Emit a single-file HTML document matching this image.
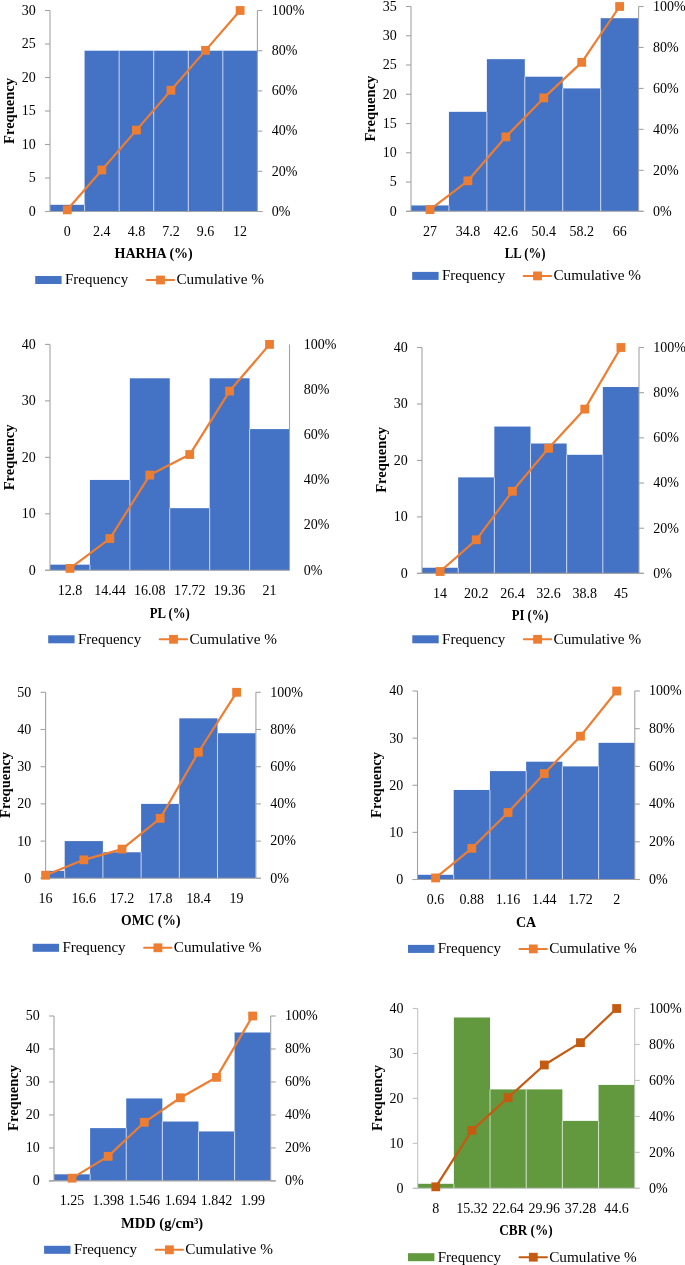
<!DOCTYPE html>
<html><head><meta charset="utf-8"><style>
html,body{margin:0;padding:0;background:#fff;overflow:hidden;}
svg{display:block;}
text{font-family:"Liberation Serif", serif;font-size:14px;fill:#000000;}
svg{will-change:transform;}
</style></head><body>
<svg width="685" height="1265" viewBox="0 0 685 1265">
<rect width="685" height="1265" fill="#fff"/>
<g><rect x="50" y="204.8" width="34.57" height="6.7" fill="#4472C4"/><rect x="84.57" y="50.7" width="34.57" height="160.8" fill="#4472C4"/><rect x="119.13" y="50.7" width="34.57" height="160.8" fill="#4472C4"/><rect x="153.7" y="50.7" width="34.57" height="160.8" fill="#4472C4"/><rect x="188.27" y="50.7" width="34.57" height="160.8" fill="#4472C4"/><rect x="222.83" y="50.7" width="34.57" height="160.8" fill="#4472C4"/><line x1="84.57" y1="211.5" x2="84.57" y2="204.8" stroke="#fff" stroke-opacity="0.6" stroke-width="1.1"/><line x1="119.13" y1="211.5" x2="119.13" y2="50.7" stroke="#fff" stroke-opacity="0.6" stroke-width="1.1"/><line x1="153.7" y1="211.5" x2="153.7" y2="50.7" stroke="#fff" stroke-opacity="0.6" stroke-width="1.1"/><line x1="188.27" y1="211.5" x2="188.27" y2="50.7" stroke="#fff" stroke-opacity="0.6" stroke-width="1.1"/><line x1="222.83" y1="211.5" x2="222.83" y2="50.7" stroke="#fff" stroke-opacity="0.6" stroke-width="1.1"/><line x1="50" y1="10.5" x2="50" y2="211.5" stroke="#A3A3A3" stroke-width="1.1"/><line x1="45" y1="211.5" x2="262.4" y2="211.5" stroke="#A3A3A3" stroke-width="1.1"/><line x1="257.4" y1="10.5" x2="257.4" y2="211.5" stroke="#A3A3A3" stroke-width="1.1"/><line x1="45" y1="211.5" x2="50" y2="211.5" stroke="#A3A3A3" stroke-width="1.1"/><text x="35.7" y="215.9" text-anchor="end">0</text><line x1="45" y1="178" x2="50" y2="178" stroke="#A3A3A3" stroke-width="1.1"/><text x="35.7" y="182.4" text-anchor="end">5</text><line x1="45" y1="144.5" x2="50" y2="144.5" stroke="#A3A3A3" stroke-width="1.1"/><text x="35.7" y="148.9" text-anchor="end">10</text><line x1="45" y1="111" x2="50" y2="111" stroke="#A3A3A3" stroke-width="1.1"/><text x="35.7" y="115.4" text-anchor="end">15</text><line x1="45" y1="77.5" x2="50" y2="77.5" stroke="#A3A3A3" stroke-width="1.1"/><text x="35.7" y="81.9" text-anchor="end">20</text><line x1="45" y1="44" x2="50" y2="44" stroke="#A3A3A3" stroke-width="1.1"/><text x="35.7" y="48.4" text-anchor="end">25</text><line x1="45" y1="10.5" x2="50" y2="10.5" stroke="#A3A3A3" stroke-width="1.1"/><text x="35.7" y="14.9" text-anchor="end">30</text><line x1="257.4" y1="211.5" x2="262.4" y2="211.5" stroke="#A3A3A3" stroke-width="1.1"/><text x="271.7" y="215.8">0%</text><line x1="257.4" y1="171.3" x2="262.4" y2="171.3" stroke="#A3A3A3" stroke-width="1.1"/><text x="271.7" y="175.6">20%</text><line x1="257.4" y1="131.1" x2="262.4" y2="131.1" stroke="#A3A3A3" stroke-width="1.1"/><text x="271.7" y="135.4">40%</text><line x1="257.4" y1="90.9" x2="262.4" y2="90.9" stroke="#A3A3A3" stroke-width="1.1"/><text x="271.7" y="95.2">60%</text><line x1="257.4" y1="50.7" x2="262.4" y2="50.7" stroke="#A3A3A3" stroke-width="1.1"/><text x="271.7" y="55">80%</text><line x1="257.4" y1="10.5" x2="262.4" y2="10.5" stroke="#A3A3A3" stroke-width="1.1"/><text x="271.7" y="14.8">100%</text><text x="67.28" y="235.8" text-anchor="middle">0</text><text x="101.85" y="235.8" text-anchor="middle">2.4</text><text x="136.42" y="235.8" text-anchor="middle">4.8</text><text x="170.98" y="235.8" text-anchor="middle">7.2</text><text x="205.55" y="235.8" text-anchor="middle">9.6</text><text x="240.12" y="235.8" text-anchor="middle">12</text><polyline points="67.28,209.84 101.85,169.97 136.42,130.1 170.98,90.24 205.55,50.37 240.12,10.5" fill="none" stroke="#ED7D31" stroke-width="2.2" stroke-linejoin="round" stroke-linecap="round"/><rect x="62.88" y="205.44" width="8.8" height="8.8" fill="#ED7D31"/><rect x="97.45" y="165.57" width="8.8" height="8.8" fill="#ED7D31"/><rect x="132.02" y="125.7" width="8.8" height="8.8" fill="#ED7D31"/><rect x="166.58" y="85.84" width="8.8" height="8.8" fill="#ED7D31"/><rect x="201.15" y="45.97" width="8.8" height="8.8" fill="#ED7D31"/><rect x="235.72" y="6.1" width="8.8" height="8.8" fill="#ED7D31"/><text x="153.7" y="258.2" text-anchor="middle" font-weight="bold">HARHA (%)</text><text transform="translate(13.8,111) rotate(-90)" text-anchor="middle" font-weight="bold" textLength="65.84" lengthAdjust="spacingAndGlyphs">Frequency</text><rect x="35.2" y="276" width="26.4" height="8" fill="#4472C4"/><text x="65" y="284.3" textLength="63.2" lengthAdjust="spacingAndGlyphs">Frequency</text><line x1="146.7" y1="280" x2="174.1" y2="280" stroke="#ED7D31" stroke-width="2" stroke-linecap="round"/><rect x="156.1" y="275.6" width="8.8" height="8.8" fill="#ED7D31"/><text x="176.4" y="284.3" textLength="87.6" lengthAdjust="spacingAndGlyphs">Cumulative %</text></g>
<g><rect x="411" y="205.45" width="37.93" height="5.85" fill="#4472C4"/><rect x="448.93" y="111.83" width="37.93" height="99.47" fill="#4472C4"/><rect x="486.87" y="59.16" width="37.93" height="152.14" fill="#4472C4"/><rect x="524.8" y="76.72" width="37.93" height="134.58" fill="#4472C4"/><rect x="562.73" y="88.42" width="37.93" height="122.88" fill="#4472C4"/><rect x="600.67" y="18.2" width="37.93" height="193.1" fill="#4472C4"/><line x1="448.93" y1="211.3" x2="448.93" y2="205.45" stroke="#fff" stroke-opacity="0.6" stroke-width="1.1"/><line x1="486.87" y1="211.3" x2="486.87" y2="111.83" stroke="#fff" stroke-opacity="0.6" stroke-width="1.1"/><line x1="524.8" y1="211.3" x2="524.8" y2="76.72" stroke="#fff" stroke-opacity="0.6" stroke-width="1.1"/><line x1="562.73" y1="211.3" x2="562.73" y2="88.42" stroke="#fff" stroke-opacity="0.6" stroke-width="1.1"/><line x1="600.67" y1="211.3" x2="600.67" y2="88.42" stroke="#fff" stroke-opacity="0.6" stroke-width="1.1"/><line x1="411" y1="6.5" x2="411" y2="211.3" stroke="#A3A3A3" stroke-width="1.1"/><line x1="406" y1="211.3" x2="643.6" y2="211.3" stroke="#A3A3A3" stroke-width="1.1"/><line x1="638.6" y1="6.5" x2="638.6" y2="211.3" stroke="#A3A3A3" stroke-width="1.1"/><line x1="406" y1="211.3" x2="411" y2="211.3" stroke="#A3A3A3" stroke-width="1.1"/><text x="396.7" y="215.7" text-anchor="end">0</text><line x1="406" y1="182.04" x2="411" y2="182.04" stroke="#A3A3A3" stroke-width="1.1"/><text x="396.7" y="186.44" text-anchor="end">5</text><line x1="406" y1="152.79" x2="411" y2="152.79" stroke="#A3A3A3" stroke-width="1.1"/><text x="396.7" y="157.19" text-anchor="end">10</text><line x1="406" y1="123.53" x2="411" y2="123.53" stroke="#A3A3A3" stroke-width="1.1"/><text x="396.7" y="127.93" text-anchor="end">15</text><line x1="406" y1="94.27" x2="411" y2="94.27" stroke="#A3A3A3" stroke-width="1.1"/><text x="396.7" y="98.67" text-anchor="end">20</text><line x1="406" y1="65.01" x2="411" y2="65.01" stroke="#A3A3A3" stroke-width="1.1"/><text x="396.7" y="69.41" text-anchor="end">25</text><line x1="406" y1="35.76" x2="411" y2="35.76" stroke="#A3A3A3" stroke-width="1.1"/><text x="396.7" y="40.16" text-anchor="end">30</text><line x1="406" y1="6.5" x2="411" y2="6.5" stroke="#A3A3A3" stroke-width="1.1"/><text x="396.7" y="10.9" text-anchor="end">35</text><line x1="638.6" y1="211.3" x2="643.6" y2="211.3" stroke="#A3A3A3" stroke-width="1.1"/><text x="652.9" y="215.6">0%</text><line x1="638.6" y1="170.34" x2="643.6" y2="170.34" stroke="#A3A3A3" stroke-width="1.1"/><text x="652.9" y="174.64">20%</text><line x1="638.6" y1="129.38" x2="643.6" y2="129.38" stroke="#A3A3A3" stroke-width="1.1"/><text x="652.9" y="133.68">40%</text><line x1="638.6" y1="88.42" x2="643.6" y2="88.42" stroke="#A3A3A3" stroke-width="1.1"/><text x="652.9" y="92.72">60%</text><line x1="638.6" y1="47.46" x2="643.6" y2="47.46" stroke="#A3A3A3" stroke-width="1.1"/><text x="652.9" y="51.76">80%</text><line x1="638.6" y1="6.5" x2="643.6" y2="6.5" stroke="#A3A3A3" stroke-width="1.1"/><text x="652.9" y="10.8">100%</text><text x="429.97" y="235.6" text-anchor="middle">27</text><text x="467.9" y="235.6" text-anchor="middle">34.8</text><text x="505.83" y="235.6" text-anchor="middle">42.6</text><text x="543.77" y="235.6" text-anchor="middle">50.4</text><text x="581.7" y="235.6" text-anchor="middle">58.2</text><text x="619.63" y="235.6" text-anchor="middle">66</text><polyline points="429.97,209.61 467.9,180.83 505.83,136.83 543.77,97.9 581.7,62.35 619.63,6.5" fill="none" stroke="#ED7D31" stroke-width="2.2" stroke-linejoin="round" stroke-linecap="round"/><rect x="425.57" y="205.21" width="8.8" height="8.8" fill="#ED7D31"/><rect x="463.5" y="176.43" width="8.8" height="8.8" fill="#ED7D31"/><rect x="501.43" y="132.43" width="8.8" height="8.8" fill="#ED7D31"/><rect x="539.37" y="93.5" width="8.8" height="8.8" fill="#ED7D31"/><rect x="577.3" y="57.95" width="8.8" height="8.8" fill="#ED7D31"/><rect x="615.23" y="2.1" width="8.8" height="8.8" fill="#ED7D31"/><text x="525.2" y="258.4" text-anchor="middle" font-weight="bold" textLength="40.87" lengthAdjust="spacingAndGlyphs">LL (%)</text><text transform="translate(375,108.7) rotate(-90)" text-anchor="middle" font-weight="bold" textLength="65.84" lengthAdjust="spacingAndGlyphs">Frequency</text><rect x="412.2" y="271.9" width="26.4" height="8" fill="#4472C4"/><text x="442" y="280.2" textLength="63.2" lengthAdjust="spacingAndGlyphs">Frequency</text><line x1="523.7" y1="275.9" x2="551.1" y2="275.9" stroke="#ED7D31" stroke-width="2" stroke-linecap="round"/><rect x="533.1" y="271.5" width="8.8" height="8.8" fill="#ED7D31"/><text x="553.4" y="280.2" textLength="87.6" lengthAdjust="spacingAndGlyphs">Cumulative %</text></g>
<g><rect x="50" y="564.65" width="39.92" height="5.65" fill="#4472C4"/><rect x="89.92" y="479.94" width="39.92" height="90.36" fill="#4472C4"/><rect x="129.83" y="378.28" width="39.92" height="192.01" fill="#4472C4"/><rect x="169.75" y="508.18" width="39.92" height="62.12" fill="#4472C4"/><rect x="209.67" y="378.28" width="39.92" height="192.01" fill="#4472C4"/><rect x="249.58" y="429.11" width="39.92" height="141.19" fill="#4472C4"/><line x1="89.92" y1="570.3" x2="89.92" y2="564.65" stroke="#fff" stroke-opacity="0.6" stroke-width="1.1"/><line x1="129.83" y1="570.3" x2="129.83" y2="479.94" stroke="#fff" stroke-opacity="0.6" stroke-width="1.1"/><line x1="169.75" y1="570.3" x2="169.75" y2="508.18" stroke="#fff" stroke-opacity="0.6" stroke-width="1.1"/><line x1="209.67" y1="570.3" x2="209.67" y2="508.18" stroke="#fff" stroke-opacity="0.6" stroke-width="1.1"/><line x1="249.58" y1="570.3" x2="249.58" y2="429.11" stroke="#fff" stroke-opacity="0.6" stroke-width="1.1"/><line x1="50" y1="344.4" x2="50" y2="570.3" stroke="#A3A3A3" stroke-width="1.1"/><line x1="45" y1="570.3" x2="289.5" y2="570.3" stroke="#A3A3A3" stroke-width="1.1"/><line x1="289.5" y1="344.4" x2="289.5" y2="570.3" stroke="#A3A3A3" stroke-width="1.1"/><line x1="45" y1="570.3" x2="50" y2="570.3" stroke="#A3A3A3" stroke-width="1.1"/><text x="35.7" y="574.7" text-anchor="end">0</text><line x1="45" y1="513.82" x2="50" y2="513.82" stroke="#A3A3A3" stroke-width="1.1"/><text x="35.7" y="518.22" text-anchor="end">10</text><line x1="45" y1="457.35" x2="50" y2="457.35" stroke="#A3A3A3" stroke-width="1.1"/><text x="35.7" y="461.75" text-anchor="end">20</text><line x1="45" y1="400.88" x2="50" y2="400.88" stroke="#A3A3A3" stroke-width="1.1"/><text x="35.7" y="405.27" text-anchor="end">30</text><line x1="45" y1="344.4" x2="50" y2="344.4" stroke="#A3A3A3" stroke-width="1.1"/><text x="35.7" y="348.8" text-anchor="end">40</text><text x="303.8" y="574.6">0%</text><text x="303.8" y="529.42">20%</text><text x="303.8" y="484.24">40%</text><text x="303.8" y="439.06">60%</text><text x="303.8" y="393.88">80%</text><text x="303.8" y="348.7">100%</text><text x="69.96" y="594.6" text-anchor="middle">12.8</text><text x="109.88" y="594.6" text-anchor="middle">14.44</text><text x="149.79" y="594.6" text-anchor="middle">16.08</text><text x="189.71" y="594.6" text-anchor="middle">17.72</text><text x="229.62" y="594.6" text-anchor="middle">19.36</text><text x="269.54" y="594.6" text-anchor="middle">21</text><polyline points="69.96,568.43 109.88,538.56 149.79,475.09 189.71,454.55 229.62,391.07 269.54,344.4" fill="none" stroke="#ED7D31" stroke-width="2.2" stroke-linejoin="round" stroke-linecap="round"/><rect x="65.56" y="564.03" width="8.8" height="8.8" fill="#ED7D31"/><rect x="105.47" y="534.16" width="8.8" height="8.8" fill="#ED7D31"/><rect x="145.39" y="470.69" width="8.8" height="8.8" fill="#ED7D31"/><rect x="185.31" y="450.15" width="8.8" height="8.8" fill="#ED7D31"/><rect x="225.22" y="386.67" width="8.8" height="8.8" fill="#ED7D31"/><rect x="265.14" y="340" width="8.8" height="8.8" fill="#ED7D31"/><text x="169.7" y="617.7" text-anchor="middle" font-weight="bold" textLength="39.95" lengthAdjust="spacingAndGlyphs">PL (%)</text><text transform="translate(14,457.4) rotate(-90)" text-anchor="middle" font-weight="bold" textLength="65.84" lengthAdjust="spacingAndGlyphs">Frequency</text><rect x="48.2" y="635.3" width="26.4" height="8" fill="#4472C4"/><text x="78" y="643.6" textLength="63.2" lengthAdjust="spacingAndGlyphs">Frequency</text><line x1="159.7" y1="639.3" x2="187.1" y2="639.3" stroke="#ED7D31" stroke-width="2" stroke-linecap="round"/><rect x="169.1" y="634.9" width="8.8" height="8.8" fill="#ED7D31"/><text x="189.4" y="643.6" textLength="87.6" lengthAdjust="spacingAndGlyphs">Cumulative %</text></g>
<g><rect x="422" y="567.75" width="36.17" height="5.65" fill="#4472C4"/><rect x="458.17" y="477.39" width="36.17" height="96.01" fill="#4472C4"/><rect x="494.33" y="426.56" width="36.17" height="146.83" fill="#4472C4"/><rect x="530.5" y="443.51" width="36.17" height="129.89" fill="#4472C4"/><rect x="566.67" y="454.8" width="36.17" height="118.6" fill="#4472C4"/><rect x="602.83" y="387.03" width="36.17" height="186.37" fill="#4472C4"/><line x1="458.17" y1="573.4" x2="458.17" y2="567.75" stroke="#fff" stroke-opacity="0.6" stroke-width="1.1"/><line x1="494.33" y1="573.4" x2="494.33" y2="477.39" stroke="#fff" stroke-opacity="0.6" stroke-width="1.1"/><line x1="530.5" y1="573.4" x2="530.5" y2="443.51" stroke="#fff" stroke-opacity="0.6" stroke-width="1.1"/><line x1="566.67" y1="573.4" x2="566.67" y2="454.8" stroke="#fff" stroke-opacity="0.6" stroke-width="1.1"/><line x1="602.83" y1="573.4" x2="602.83" y2="454.8" stroke="#fff" stroke-opacity="0.6" stroke-width="1.1"/><line x1="422" y1="347.5" x2="422" y2="573.4" stroke="#A3A3A3" stroke-width="1.1"/><line x1="417" y1="573.4" x2="644" y2="573.4" stroke="#A3A3A3" stroke-width="1.1"/><line x1="639" y1="347.5" x2="639" y2="573.4" stroke="#A3A3A3" stroke-width="1.1"/><line x1="417" y1="573.4" x2="422" y2="573.4" stroke="#A3A3A3" stroke-width="1.1"/><text x="407.7" y="577.8" text-anchor="end">0</text><line x1="417" y1="516.92" x2="422" y2="516.92" stroke="#A3A3A3" stroke-width="1.1"/><text x="407.7" y="521.32" text-anchor="end">10</text><line x1="417" y1="460.45" x2="422" y2="460.45" stroke="#A3A3A3" stroke-width="1.1"/><text x="407.7" y="464.85" text-anchor="end">20</text><line x1="417" y1="403.98" x2="422" y2="403.98" stroke="#A3A3A3" stroke-width="1.1"/><text x="407.7" y="408.38" text-anchor="end">30</text><line x1="417" y1="347.5" x2="422" y2="347.5" stroke="#A3A3A3" stroke-width="1.1"/><text x="407.7" y="351.9" text-anchor="end">40</text><line x1="639" y1="573.4" x2="644" y2="573.4" stroke="#A3A3A3" stroke-width="1.1"/><text x="653.3" y="577.7">0%</text><line x1="639" y1="528.22" x2="644" y2="528.22" stroke="#A3A3A3" stroke-width="1.1"/><text x="653.3" y="532.52">20%</text><line x1="639" y1="483.04" x2="644" y2="483.04" stroke="#A3A3A3" stroke-width="1.1"/><text x="653.3" y="487.34">40%</text><line x1="639" y1="437.86" x2="644" y2="437.86" stroke="#A3A3A3" stroke-width="1.1"/><text x="653.3" y="442.16">60%</text><line x1="639" y1="392.68" x2="644" y2="392.68" stroke="#A3A3A3" stroke-width="1.1"/><text x="653.3" y="396.98">80%</text><line x1="639" y1="347.5" x2="644" y2="347.5" stroke="#A3A3A3" stroke-width="1.1"/><text x="653.3" y="351.8">100%</text><text x="440.08" y="597.7" text-anchor="middle">14</text><text x="476.25" y="597.7" text-anchor="middle">20.2</text><text x="512.42" y="597.7" text-anchor="middle">26.4</text><text x="548.58" y="597.7" text-anchor="middle">32.6</text><text x="584.75" y="597.7" text-anchor="middle">38.8</text><text x="620.92" y="597.7" text-anchor="middle">45</text><polyline points="440.08,571.53 476.25,539.8 512.42,491.25 548.58,448.31 584.75,409.11 620.92,347.5" fill="none" stroke="#ED7D31" stroke-width="2.2" stroke-linejoin="round" stroke-linecap="round"/><rect x="435.68" y="567.13" width="8.8" height="8.8" fill="#ED7D31"/><rect x="471.85" y="535.4" width="8.8" height="8.8" fill="#ED7D31"/><rect x="508.02" y="486.85" width="8.8" height="8.8" fill="#ED7D31"/><rect x="544.18" y="443.91" width="8.8" height="8.8" fill="#ED7D31"/><rect x="580.35" y="404.71" width="8.8" height="8.8" fill="#ED7D31"/><rect x="616.52" y="343.1" width="8.8" height="8.8" fill="#ED7D31"/><text x="530.1" y="620.2" text-anchor="middle" font-weight="bold" textLength="36.85" lengthAdjust="spacingAndGlyphs">PI (%)</text><text transform="translate(386.2,459.9) rotate(-90)" text-anchor="middle" font-weight="bold" textLength="65.84" lengthAdjust="spacingAndGlyphs">Frequency</text><rect x="412.3" y="635.3" width="26.4" height="8" fill="#4472C4"/><text x="442.1" y="643.6" textLength="63.2" lengthAdjust="spacingAndGlyphs">Frequency</text><line x1="523.8" y1="639.3" x2="551.2" y2="639.3" stroke="#ED7D31" stroke-width="2" stroke-linecap="round"/><rect x="533.2" y="634.9" width="8.8" height="8.8" fill="#ED7D31"/><text x="553.5" y="643.6" textLength="87.6" lengthAdjust="spacingAndGlyphs">Cumulative %</text></g>
<g><rect x="45.6" y="870.86" width="19.1" height="7.44" fill="#4472C4"/><rect x="64.7" y="841.1" width="38.2" height="37.2" fill="#4472C4"/><rect x="102.9" y="852.26" width="38.2" height="26.04" fill="#4472C4"/><rect x="141.1" y="803.9" width="38.2" height="74.4" fill="#4472C4"/><rect x="179.3" y="718.34" width="38.2" height="159.96" fill="#4472C4"/><rect x="217.5" y="733.22" width="38.2" height="145.08" fill="#4472C4"/><line x1="64.7" y1="878.3" x2="64.7" y2="870.86" stroke="#fff" stroke-opacity="0.6" stroke-width="1.1"/><line x1="102.9" y1="878.3" x2="102.9" y2="852.26" stroke="#fff" stroke-opacity="0.6" stroke-width="1.1"/><line x1="141.1" y1="878.3" x2="141.1" y2="852.26" stroke="#fff" stroke-opacity="0.6" stroke-width="1.1"/><line x1="179.3" y1="878.3" x2="179.3" y2="803.9" stroke="#fff" stroke-opacity="0.6" stroke-width="1.1"/><line x1="217.5" y1="878.3" x2="217.5" y2="733.22" stroke="#fff" stroke-opacity="0.6" stroke-width="1.1"/><line x1="45.6" y1="692.3" x2="45.6" y2="878.3" stroke="#A3A3A3" stroke-width="1.1"/><line x1="40.6" y1="878.3" x2="260.9" y2="878.3" stroke="#A3A3A3" stroke-width="1.1"/><line x1="255.9" y1="692.3" x2="255.9" y2="878.3" stroke="#A3A3A3" stroke-width="1.1"/><line x1="40.6" y1="878.3" x2="45.6" y2="878.3" stroke="#A3A3A3" stroke-width="1.1"/><text x="31.3" y="882.7" text-anchor="end">0</text><line x1="40.6" y1="841.1" x2="45.6" y2="841.1" stroke="#A3A3A3" stroke-width="1.1"/><text x="31.3" y="845.5" text-anchor="end">10</text><line x1="40.6" y1="803.9" x2="45.6" y2="803.9" stroke="#A3A3A3" stroke-width="1.1"/><text x="31.3" y="808.3" text-anchor="end">20</text><line x1="40.6" y1="766.7" x2="45.6" y2="766.7" stroke="#A3A3A3" stroke-width="1.1"/><text x="31.3" y="771.1" text-anchor="end">30</text><line x1="40.6" y1="729.5" x2="45.6" y2="729.5" stroke="#A3A3A3" stroke-width="1.1"/><text x="31.3" y="733.9" text-anchor="end">40</text><line x1="40.6" y1="692.3" x2="45.6" y2="692.3" stroke="#A3A3A3" stroke-width="1.1"/><text x="31.3" y="696.7" text-anchor="end">50</text><line x1="255.9" y1="878.3" x2="260.9" y2="878.3" stroke="#A3A3A3" stroke-width="1.1"/><text x="270.2" y="882.6">0%</text><line x1="255.9" y1="841.1" x2="260.9" y2="841.1" stroke="#A3A3A3" stroke-width="1.1"/><text x="270.2" y="845.4">20%</text><line x1="255.9" y1="803.9" x2="260.9" y2="803.9" stroke="#A3A3A3" stroke-width="1.1"/><text x="270.2" y="808.2">40%</text><line x1="255.9" y1="766.7" x2="260.9" y2="766.7" stroke="#A3A3A3" stroke-width="1.1"/><text x="270.2" y="771">60%</text><line x1="255.9" y1="729.5" x2="260.9" y2="729.5" stroke="#A3A3A3" stroke-width="1.1"/><text x="270.2" y="733.8">80%</text><line x1="255.9" y1="692.3" x2="260.9" y2="692.3" stroke="#A3A3A3" stroke-width="1.1"/><text x="270.2" y="696.6">100%</text><text x="45.6" y="902.6" text-anchor="middle">16</text><text x="83.8" y="902.6" text-anchor="middle">16.6</text><text x="122" y="902.6" text-anchor="middle">17.2</text><text x="160.2" y="902.6" text-anchor="middle">17.8</text><text x="198.4" y="902.6" text-anchor="middle">18.4</text><text x="236.6" y="902.6" text-anchor="middle">19</text><polyline points="45.6,875.23 83.8,859.85 122,849.09 160.2,818.35 198.4,752.25 236.6,692.3" fill="none" stroke="#ED7D31" stroke-width="2.2" stroke-linejoin="round" stroke-linecap="round"/><rect x="41.2" y="870.83" width="8.8" height="8.8" fill="#ED7D31"/><rect x="79.4" y="855.45" width="8.8" height="8.8" fill="#ED7D31"/><rect x="117.6" y="844.69" width="8.8" height="8.8" fill="#ED7D31"/><rect x="155.8" y="813.95" width="8.8" height="8.8" fill="#ED7D31"/><rect x="194" y="747.85" width="8.8" height="8.8" fill="#ED7D31"/><rect x="232.2" y="687.9" width="8.8" height="8.8" fill="#ED7D31"/><text x="150.8" y="925.4" text-anchor="middle" font-weight="bold" textLength="59.52" lengthAdjust="spacingAndGlyphs">OMC (%)</text><text transform="translate(9.9,785) rotate(-90)" text-anchor="middle" font-weight="bold" textLength="65.84" lengthAdjust="spacingAndGlyphs">Frequency</text><rect x="32.6" y="943.8" width="26.4" height="8" fill="#4472C4"/><text x="62.4" y="952.1" textLength="63.2" lengthAdjust="spacingAndGlyphs">Frequency</text><line x1="144.1" y1="947.8" x2="171.5" y2="947.8" stroke="#ED7D31" stroke-width="2" stroke-linecap="round"/><rect x="153.5" y="943.4" width="8.8" height="8.8" fill="#ED7D31"/><text x="173.8" y="952.1" textLength="87.6" lengthAdjust="spacingAndGlyphs">Cumulative %</text></g>
<g><rect x="417.5" y="874.79" width="36.22" height="4.71" fill="#4472C4"/><rect x="453.72" y="789.96" width="36.22" height="89.54" fill="#4472C4"/><rect x="489.93" y="771.11" width="36.22" height="108.39" fill="#4472C4"/><rect x="526.15" y="761.69" width="36.22" height="117.81" fill="#4472C4"/><rect x="562.37" y="766.4" width="36.22" height="113.1" fill="#4472C4"/><rect x="598.58" y="742.84" width="36.22" height="136.66" fill="#4472C4"/><line x1="453.72" y1="879.5" x2="453.72" y2="874.79" stroke="#fff" stroke-opacity="0.6" stroke-width="1.1"/><line x1="489.93" y1="879.5" x2="489.93" y2="789.96" stroke="#fff" stroke-opacity="0.6" stroke-width="1.1"/><line x1="526.15" y1="879.5" x2="526.15" y2="771.11" stroke="#fff" stroke-opacity="0.6" stroke-width="1.1"/><line x1="562.37" y1="879.5" x2="562.37" y2="766.4" stroke="#fff" stroke-opacity="0.6" stroke-width="1.1"/><line x1="598.58" y1="879.5" x2="598.58" y2="766.4" stroke="#fff" stroke-opacity="0.6" stroke-width="1.1"/><line x1="417.5" y1="691" x2="417.5" y2="879.5" stroke="#A3A3A3" stroke-width="1.1"/><line x1="412.5" y1="879.5" x2="639.8" y2="879.5" stroke="#A3A3A3" stroke-width="1.1"/><line x1="634.8" y1="691" x2="634.8" y2="879.5" stroke="#A3A3A3" stroke-width="1.1"/><line x1="412.5" y1="879.5" x2="417.5" y2="879.5" stroke="#A3A3A3" stroke-width="1.1"/><text x="403.2" y="883.9" text-anchor="end">0</text><line x1="412.5" y1="832.38" x2="417.5" y2="832.38" stroke="#A3A3A3" stroke-width="1.1"/><text x="403.2" y="836.77" text-anchor="end">10</text><line x1="412.5" y1="785.25" x2="417.5" y2="785.25" stroke="#A3A3A3" stroke-width="1.1"/><text x="403.2" y="789.65" text-anchor="end">20</text><line x1="412.5" y1="738.12" x2="417.5" y2="738.12" stroke="#A3A3A3" stroke-width="1.1"/><text x="403.2" y="742.52" text-anchor="end">30</text><line x1="412.5" y1="691" x2="417.5" y2="691" stroke="#A3A3A3" stroke-width="1.1"/><text x="403.2" y="695.4" text-anchor="end">40</text><line x1="634.8" y1="879.5" x2="639.8" y2="879.5" stroke="#A3A3A3" stroke-width="1.1"/><text x="649.1" y="883.8">0%</text><line x1="634.8" y1="841.8" x2="639.8" y2="841.8" stroke="#A3A3A3" stroke-width="1.1"/><text x="649.1" y="846.1">20%</text><line x1="634.8" y1="804.1" x2="639.8" y2="804.1" stroke="#A3A3A3" stroke-width="1.1"/><text x="649.1" y="808.4">40%</text><line x1="634.8" y1="766.4" x2="639.8" y2="766.4" stroke="#A3A3A3" stroke-width="1.1"/><text x="649.1" y="770.7">60%</text><line x1="634.8" y1="728.7" x2="639.8" y2="728.7" stroke="#A3A3A3" stroke-width="1.1"/><text x="649.1" y="733">80%</text><line x1="634.8" y1="691" x2="639.8" y2="691" stroke="#A3A3A3" stroke-width="1.1"/><text x="649.1" y="695.3">100%</text><text x="435.61" y="903.8" text-anchor="middle">0.6</text><text x="471.82" y="903.8" text-anchor="middle">0.88</text><text x="508.04" y="903.8" text-anchor="middle">1.16</text><text x="544.26" y="903.8" text-anchor="middle">1.44</text><text x="580.47" y="903.8" text-anchor="middle">1.72</text><text x="616.69" y="903.8" text-anchor="middle">2</text><polyline points="435.61,877.94 471.82,848.34 508.04,812.51 544.26,773.57 580.47,736.18 616.69,691" fill="none" stroke="#ED7D31" stroke-width="2.2" stroke-linejoin="round" stroke-linecap="round"/><rect x="431.21" y="873.54" width="8.8" height="8.8" fill="#ED7D31"/><rect x="467.43" y="843.94" width="8.8" height="8.8" fill="#ED7D31"/><rect x="503.64" y="808.11" width="8.8" height="8.8" fill="#ED7D31"/><rect x="539.86" y="769.17" width="8.8" height="8.8" fill="#ED7D31"/><rect x="576.07" y="731.78" width="8.8" height="8.8" fill="#ED7D31"/><rect x="612.29" y="686.6" width="8.8" height="8.8" fill="#ED7D31"/><text x="526" y="926.6" text-anchor="middle" font-weight="bold">CA</text><text transform="translate(381.2,785) rotate(-90)" text-anchor="middle" font-weight="bold" textLength="65.84" lengthAdjust="spacingAndGlyphs">Frequency</text><rect x="408" y="944.9" width="26.4" height="8" fill="#4472C4"/><text x="437.8" y="953.2" textLength="63.2" lengthAdjust="spacingAndGlyphs">Frequency</text><line x1="519.5" y1="948.9" x2="546.9" y2="948.9" stroke="#ED7D31" stroke-width="2" stroke-linecap="round"/><rect x="528.9" y="944.5" width="8.8" height="8.8" fill="#ED7D31"/><text x="549.2" y="953.2" textLength="87.6" lengthAdjust="spacingAndGlyphs">Cumulative %</text></g>
<g><rect x="54" y="1174.3" width="36.12" height="6.6" fill="#4472C4"/><rect x="90.12" y="1128.13" width="36.12" height="52.77" fill="#4472C4"/><rect x="126.23" y="1098.45" width="36.12" height="82.45" fill="#4472C4"/><rect x="162.35" y="1121.54" width="36.12" height="59.36" fill="#4472C4"/><rect x="198.47" y="1131.43" width="36.12" height="49.47" fill="#4472C4"/><rect x="234.58" y="1032.49" width="36.12" height="148.41" fill="#4472C4"/><line x1="90.12" y1="1180.9" x2="90.12" y2="1174.3" stroke="#fff" stroke-opacity="0.6" stroke-width="1.1"/><line x1="126.23" y1="1180.9" x2="126.23" y2="1128.13" stroke="#fff" stroke-opacity="0.6" stroke-width="1.1"/><line x1="162.35" y1="1180.9" x2="162.35" y2="1121.54" stroke="#fff" stroke-opacity="0.6" stroke-width="1.1"/><line x1="198.47" y1="1180.9" x2="198.47" y2="1131.43" stroke="#fff" stroke-opacity="0.6" stroke-width="1.1"/><line x1="234.58" y1="1180.9" x2="234.58" y2="1131.43" stroke="#fff" stroke-opacity="0.6" stroke-width="1.1"/><line x1="54" y1="1016" x2="54" y2="1180.9" stroke="#A3A3A3" stroke-width="1.1"/><line x1="49" y1="1180.9" x2="275.7" y2="1180.9" stroke="#A3A3A3" stroke-width="1.1"/><line x1="270.7" y1="1016" x2="270.7" y2="1180.9" stroke="#A3A3A3" stroke-width="1.1"/><line x1="49" y1="1180.9" x2="54" y2="1180.9" stroke="#A3A3A3" stroke-width="1.1"/><text x="39.7" y="1185.3" text-anchor="end">0</text><line x1="49" y1="1147.92" x2="54" y2="1147.92" stroke="#A3A3A3" stroke-width="1.1"/><text x="39.7" y="1152.32" text-anchor="end">10</text><line x1="49" y1="1114.94" x2="54" y2="1114.94" stroke="#A3A3A3" stroke-width="1.1"/><text x="39.7" y="1119.34" text-anchor="end">20</text><line x1="49" y1="1081.96" x2="54" y2="1081.96" stroke="#A3A3A3" stroke-width="1.1"/><text x="39.7" y="1086.36" text-anchor="end">30</text><line x1="49" y1="1048.98" x2="54" y2="1048.98" stroke="#A3A3A3" stroke-width="1.1"/><text x="39.7" y="1053.38" text-anchor="end">40</text><line x1="49" y1="1016" x2="54" y2="1016" stroke="#A3A3A3" stroke-width="1.1"/><text x="39.7" y="1020.4" text-anchor="end">50</text><line x1="270.7" y1="1180.9" x2="275.7" y2="1180.9" stroke="#A3A3A3" stroke-width="1.1"/><text x="285" y="1185.2">0%</text><line x1="270.7" y1="1147.92" x2="275.7" y2="1147.92" stroke="#A3A3A3" stroke-width="1.1"/><text x="285" y="1152.22">20%</text><line x1="270.7" y1="1114.94" x2="275.7" y2="1114.94" stroke="#A3A3A3" stroke-width="1.1"/><text x="285" y="1119.24">40%</text><line x1="270.7" y1="1081.96" x2="275.7" y2="1081.96" stroke="#A3A3A3" stroke-width="1.1"/><text x="285" y="1086.26">60%</text><line x1="270.7" y1="1048.98" x2="275.7" y2="1048.98" stroke="#A3A3A3" stroke-width="1.1"/><text x="285" y="1053.28">80%</text><line x1="270.7" y1="1016" x2="275.7" y2="1016" stroke="#A3A3A3" stroke-width="1.1"/><text x="285" y="1020.3">100%</text><text x="72.06" y="1205.2" text-anchor="middle">1.25</text><text x="108.17" y="1205.2" text-anchor="middle">1.398</text><text x="144.29" y="1205.2" text-anchor="middle">1.546</text><text x="180.41" y="1205.2" text-anchor="middle">1.694</text><text x="216.53" y="1205.2" text-anchor="middle">1.842</text><text x="252.64" y="1205.2" text-anchor="middle">1.99</text><polyline points="72.06,1178.17 108.17,1156.37 144.29,1122.3 180.41,1097.77 216.53,1077.33 252.64,1016" fill="none" stroke="#ED7D31" stroke-width="2.2" stroke-linejoin="round" stroke-linecap="round"/><rect x="67.66" y="1173.77" width="8.8" height="8.8" fill="#ED7D31"/><rect x="103.77" y="1151.97" width="8.8" height="8.8" fill="#ED7D31"/><rect x="139.89" y="1117.9" width="8.8" height="8.8" fill="#ED7D31"/><rect x="176.01" y="1093.37" width="8.8" height="8.8" fill="#ED7D31"/><rect x="212.12" y="1072.93" width="8.8" height="8.8" fill="#ED7D31"/><rect x="248.24" y="1011.6" width="8.8" height="8.8" fill="#ED7D31"/><text x="162.1" y="1228" text-anchor="middle" font-weight="bold" textLength="82.24" lengthAdjust="spacingAndGlyphs">MDD (g/cm³)</text><text transform="translate(18.2,1098) rotate(-90)" text-anchor="middle" font-weight="bold" textLength="65.84" lengthAdjust="spacingAndGlyphs">Frequency</text><rect x="44.1" y="1245.8" width="26.4" height="8" fill="#4472C4"/><text x="73.9" y="1254.1" textLength="63.2" lengthAdjust="spacingAndGlyphs">Frequency</text><line x1="155.6" y1="1249.8" x2="183" y2="1249.8" stroke="#ED7D31" stroke-width="2" stroke-linecap="round"/><rect x="165" y="1245.4" width="8.8" height="8.8" fill="#ED7D31"/><text x="185.3" y="1254.1" textLength="87.6" lengthAdjust="spacingAndGlyphs">Cumulative %</text></g>
<g><rect x="417.7" y="1183.81" width="36.17" height="4.49" fill="#62993E"/><rect x="453.87" y="1017.49" width="36.17" height="170.81" fill="#62993E"/><rect x="490.03" y="1089.41" width="36.17" height="98.89" fill="#62993E"/><rect x="526.2" y="1089.41" width="36.17" height="98.89" fill="#62993E"/><rect x="562.37" y="1120.88" width="36.17" height="67.42" fill="#62993E"/><rect x="598.53" y="1084.91" width="36.17" height="103.38" fill="#62993E"/><line x1="453.87" y1="1188.3" x2="453.87" y2="1183.81" stroke="#fff" stroke-opacity="0.6" stroke-width="1.1"/><line x1="490.03" y1="1188.3" x2="490.03" y2="1089.41" stroke="#fff" stroke-opacity="0.6" stroke-width="1.1"/><line x1="526.2" y1="1188.3" x2="526.2" y2="1089.41" stroke="#fff" stroke-opacity="0.6" stroke-width="1.1"/><line x1="562.37" y1="1188.3" x2="562.37" y2="1120.88" stroke="#fff" stroke-opacity="0.6" stroke-width="1.1"/><line x1="598.53" y1="1188.3" x2="598.53" y2="1120.88" stroke="#fff" stroke-opacity="0.6" stroke-width="1.1"/><line x1="417.7" y1="1008.5" x2="417.7" y2="1188.3" stroke="#C2C2C2" stroke-width="1.1"/><line x1="412.7" y1="1188.3" x2="639.7" y2="1188.3" stroke="#C2C2C2" stroke-width="1.1"/><line x1="634.7" y1="1008.5" x2="634.7" y2="1188.3" stroke="#C2C2C2" stroke-width="1.1"/><line x1="412.7" y1="1188.3" x2="417.7" y2="1188.3" stroke="#C2C2C2" stroke-width="1.1"/><text x="403.4" y="1192.7" text-anchor="end">0</text><line x1="412.7" y1="1143.35" x2="417.7" y2="1143.35" stroke="#C2C2C2" stroke-width="1.1"/><text x="403.4" y="1147.75" text-anchor="end">10</text><line x1="412.7" y1="1098.4" x2="417.7" y2="1098.4" stroke="#C2C2C2" stroke-width="1.1"/><text x="403.4" y="1102.8" text-anchor="end">20</text><line x1="412.7" y1="1053.45" x2="417.7" y2="1053.45" stroke="#C2C2C2" stroke-width="1.1"/><text x="403.4" y="1057.85" text-anchor="end">30</text><line x1="412.7" y1="1008.5" x2="417.7" y2="1008.5" stroke="#C2C2C2" stroke-width="1.1"/><text x="403.4" y="1012.9" text-anchor="end">40</text><line x1="634.7" y1="1188.3" x2="639.7" y2="1188.3" stroke="#C2C2C2" stroke-width="1.1"/><text x="649" y="1192.6">0%</text><line x1="634.7" y1="1152.34" x2="639.7" y2="1152.34" stroke="#C2C2C2" stroke-width="1.1"/><text x="649" y="1156.64">20%</text><line x1="634.7" y1="1116.38" x2="639.7" y2="1116.38" stroke="#C2C2C2" stroke-width="1.1"/><text x="649" y="1120.68">40%</text><line x1="634.7" y1="1080.42" x2="639.7" y2="1080.42" stroke="#C2C2C2" stroke-width="1.1"/><text x="649" y="1084.72">60%</text><line x1="634.7" y1="1044.46" x2="639.7" y2="1044.46" stroke="#C2C2C2" stroke-width="1.1"/><text x="649" y="1048.76">80%</text><line x1="634.7" y1="1008.5" x2="639.7" y2="1008.5" stroke="#C2C2C2" stroke-width="1.1"/><text x="649" y="1012.8">100%</text><text x="435.78" y="1212.6" text-anchor="middle">8</text><text x="471.95" y="1212.6" text-anchor="middle">15.32</text><text x="508.12" y="1212.6" text-anchor="middle">22.64</text><text x="544.28" y="1212.6" text-anchor="middle">29.96</text><text x="580.45" y="1212.6" text-anchor="middle">37.28</text><text x="616.62" y="1212.6" text-anchor="middle">44.6</text><polyline points="435.78,1186.81 471.95,1130.35 508.12,1097.66 544.28,1064.97 580.45,1042.68 616.62,1008.5" fill="none" stroke="#C55A11" stroke-width="2.2" stroke-linejoin="round" stroke-linecap="round"/><rect x="431.38" y="1182.41" width="8.8" height="8.8" fill="#C55A11"/><rect x="467.55" y="1125.95" width="8.8" height="8.8" fill="#C55A11"/><rect x="503.72" y="1093.26" width="8.8" height="8.8" fill="#C55A11"/><rect x="539.88" y="1060.57" width="8.8" height="8.8" fill="#C55A11"/><rect x="576.05" y="1038.28" width="8.8" height="8.8" fill="#C55A11"/><rect x="612.22" y="1004.1" width="8.8" height="8.8" fill="#C55A11"/><text x="526" y="1234.9" text-anchor="middle" font-weight="bold" textLength="53.42" lengthAdjust="spacingAndGlyphs">CBR (%)</text><text transform="translate(381.6,1098) rotate(-90)" text-anchor="middle" font-weight="bold" textLength="65.84" lengthAdjust="spacingAndGlyphs">Frequency</text><rect x="408" y="1253.2" width="26.4" height="8" fill="#62993E"/><text x="437.8" y="1261.5" textLength="63.2" lengthAdjust="spacingAndGlyphs">Frequency</text><line x1="519.5" y1="1257.2" x2="546.9" y2="1257.2" stroke="#C55A11" stroke-width="2" stroke-linecap="round"/><rect x="528.9" y="1252.8" width="8.8" height="8.8" fill="#C55A11"/><text x="549.2" y="1261.5" textLength="87.6" lengthAdjust="spacingAndGlyphs">Cumulative %</text></g>
</svg>
</body></html>
